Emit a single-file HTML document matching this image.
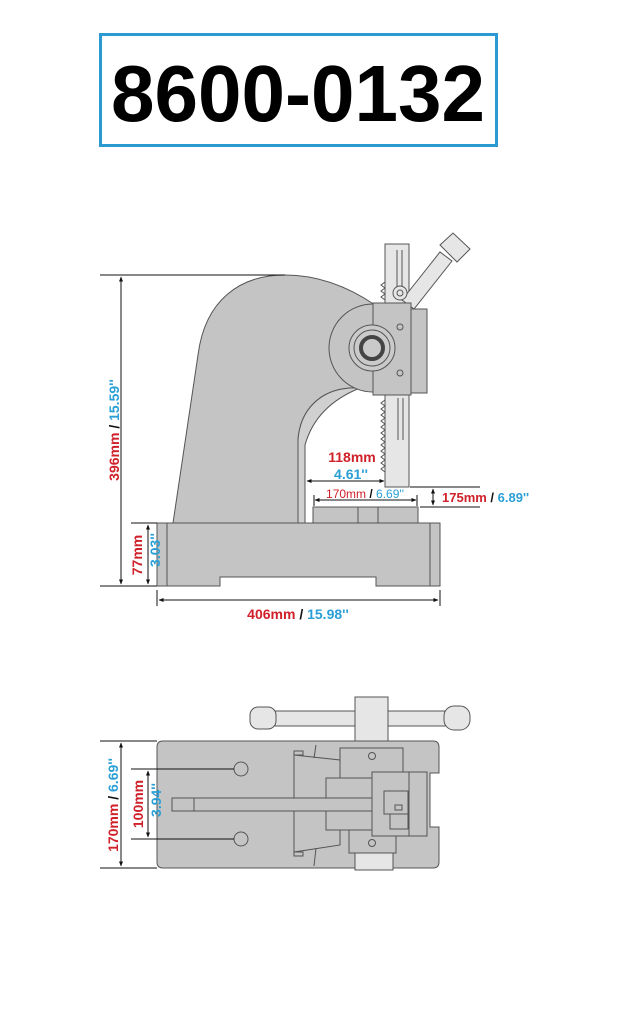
<!DOCTYPE html>
<html><head><style>
html,body{margin:0;padding:0;background:#fff;}
svg{display:block;}
text{font-family:"Liberation Sans",Arial,sans-serif;font-weight:bold;}
</style></head><body>
<svg width="624" height="1014" viewBox="0 0 624 1014" xmlns="http://www.w3.org/2000/svg">
<defs>
<marker id="a" viewBox="0 0 10 10" refX="9" refY="5" markerWidth="5" markerHeight="5" orient="auto-start-reverse"><path d="M0,1 L10,5 L0,9 z" fill="#111"/></marker>
</defs>
<rect x="100.5" y="34.5" width="396" height="111" fill="#fff" stroke="#2b9ad3" stroke-width="3"/>
<text x="298" y="121" font-size="80" text-anchor="middle" fill="#000" textLength="374" lengthAdjust="spacingAndGlyphs">8600-0132</text>

<!-- SIDE VIEW -->
<g stroke="#555" stroke-width="1" fill="#c4c4c4">
<rect x="385" y="244" width="24" height="62" fill="#e6e6e6"/>
<polygon points="402,300 440,252 452,261 414,309" fill="#e6e6e6"/>
<polygon points="440,245 453,233 470,249 457,262" fill="#e6e6e6"/>
<path d="M173,523 L198,355 C205,300 240,275 285,275 C320,275 350,288 375,305 L375,388 L350,388 C320,390 300,410 298,440 L298,523 Z"/>
<path d="M298,523 L298,440 C300,410 320,390 350,388 L360,388 C330,400 312,420 305,445 L305,523 Z" fill="#d0d0d0"/>
<circle cx="373" cy="348" r="44"/>
<rect x="373" y="303" width="38" height="92"/>
<rect x="411" y="309" width="16" height="84"/>
<circle cx="372" cy="348" r="23" fill="#cacaca"/>
<circle cx="372" cy="348" r="18" fill="none"/>
<circle cx="372" cy="348" r="11" fill="none" stroke="#444" stroke-width="4"/>
<circle cx="400" cy="327" r="3" fill="none"/>
<circle cx="400" cy="373" r="3" fill="none"/>
<rect x="385" y="395" width="24" height="92" fill="#e6e6e6"/>
<line x1="398" y1="398" x2="398" y2="440"/><line x1="403" y1="398" x2="403" y2="440"/>
<line x1="397" y1="250" x2="397" y2="296"/><line x1="402" y1="250" x2="402" y2="296"/>
<circle cx="400" cy="293" r="7" fill="#e6e6e6"/><circle cx="400" cy="293" r="3" fill="none"/>
<rect x="313" y="507" width="105" height="16"/>
<line x1="358" y1="507" x2="358" y2="523"/><line x1="378" y1="507" x2="378" y2="523"/>
<path d="M157,523 L440,523 L440,586 L376,586 L376,577 L220,577 L220,586 L157,586 Z"/>
<line x1="167" y1="523" x2="167" y2="586"/><line x1="430" y1="523" x2="430" y2="586"/>
</g>
<path d="M385,300 l-4,-3 4,-3 -4,-3 4,-3 -4,-3 4,-3 M385,400 l-4,3 4,3 -4,3 4,3 -4,3 4,3 -4,3 4,3 -4,3 4,3 -4,3 4,3 -4,3 4,3 -4,3 4,3 -4,3 4,3 -4,3 4,3 -4,3 4,3 -4,3 4,3" fill="none" stroke="#555" stroke-width="1"/>

<g stroke="#111" stroke-width="1" fill="none">
<line x1="100" y1="275" x2="285" y2="275"/>
<line x1="100" y1="586" x2="157" y2="586"/>
<line x1="121" y1="277" x2="121" y2="584" marker-start="url(#a)" marker-end="url(#a)"/>
<line x1="131" y1="523" x2="157" y2="523"/>
<line x1="148" y1="525" x2="148" y2="584" marker-start="url(#a)" marker-end="url(#a)"/>
<line x1="157" y1="590" x2="157" y2="606"/><line x1="440" y1="590" x2="440" y2="606"/>
<line x1="159" y1="600" x2="438" y2="600" marker-start="url(#a)" marker-end="url(#a)"/>
<line x1="307" y1="481" x2="384" y2="481" marker-start="url(#a)" marker-end="url(#a)"/>
<line x1="314" y1="495" x2="314" y2="506"/><line x1="417" y1="495" x2="417" y2="506"/>
<line x1="315" y1="500" x2="416" y2="500" marker-start="url(#a)" marker-end="url(#a)"/>
<line x1="410" y1="487" x2="480" y2="487"/><line x1="420" y1="507" x2="480" y2="507"/>
<line x1="433" y1="489" x2="433" y2="505" marker-start="url(#a)" marker-end="url(#a)"/>
</g>
<text transform="translate(119,430) rotate(-90)" font-size="14" text-anchor="middle"><tspan fill="#d0202a">396mm</tspan><tspan fill="#111"> / </tspan><tspan fill="#2a9fd6">15.59''</tspan></text>
<text transform="translate(142,555) rotate(-90)" font-size="14" text-anchor="middle" fill="#d0202a">77mm</text>
<text transform="translate(160,550) rotate(-90)" font-size="14" text-anchor="middle" fill="#2a9fd6">3.03''</text>
<text x="298" y="619" font-size="14" text-anchor="middle"><tspan fill="#d0202a">406mm</tspan><tspan fill="#111"> / </tspan><tspan fill="#2a9fd6">15.98''</tspan></text>
<text x="352" y="462" font-size="14" text-anchor="middle" fill="#d0202a">118mm</text>
<text x="351" y="479" font-size="14" text-anchor="middle" fill="#2a9fd6">4.61''</text>
<text x="365" y="498" font-size="12" style="font-weight:normal" text-anchor="middle"><tspan fill="#d0202a">170mm</tspan><tspan fill="#111" style="font-weight:bold"> / </tspan><tspan fill="#2a9fd6">6.69''</tspan></text>
<text x="442" y="502" font-size="13"><tspan fill="#d0202a">175mm</tspan><tspan fill="#111"> / </tspan><tspan fill="#2a9fd6">6.89''</tspan></text>

<!-- TOP VIEW -->
<g stroke="#555" stroke-width="1" fill="#c4c4c4">
<rect x="262" y="711" width="195" height="15" rx="7" fill="#e6e6e6"/>
<rect x="250" y="707" width="26" height="22" rx="8" fill="#e6e6e6"/>
<rect x="444" y="706" width="26" height="24" rx="10" fill="#e6e6e6"/>
<rect x="355" y="697" width="33" height="45" fill="#e6e6e6"/>
<path d="M163,741 L433,741 Q439,741 439,747 L439,773 L430,773 L430,827 L439,827 L439,862 Q439,868 433,868 L163,868 Q157,868 157,862 L157,747 Q157,741 163,741 Z"/>
<rect x="355" y="853" width="38" height="17" fill="#e6e6e6"/>
<circle cx="241" cy="769" r="7"/><circle cx="241" cy="839" r="7"/>
<path d="M294,755 L340,760 L340,845 L294,852 Z"/>
<rect x="294" y="751" width="9" height="4"/><rect x="294" y="852" width="9" height="4"/>
<line x1="316" y1="745" x2="314" y2="758" /><line x1="316" y1="848" x2="314" y2="866"/>
<rect x="340" y="748" width="63" height="30"/>
<rect x="349" y="830" width="47" height="23"/>
<rect x="326" y="778" width="46" height="52"/>
<rect x="172" y="798" width="200" height="13"/>
<line x1="194" y1="798" x2="194" y2="811"/>
<rect x="372" y="772" width="55" height="64"/>
<line x1="409" y1="772" x2="409" y2="836"/>
<rect x="384" y="791" width="24" height="23"/>
<rect x="390" y="814" width="18" height="15"/>
<rect x="395" y="805" width="7" height="5"/>
<circle cx="372" cy="756" r="3.5" fill="none"/><circle cx="372" cy="843" r="3.5" fill="none"/>
</g>
<g stroke="#111" stroke-width="1" fill="none">
<line x1="100" y1="741" x2="157" y2="741"/><line x1="100" y1="868" x2="157" y2="868"/>
<line x1="121" y1="743" x2="121" y2="866" marker-start="url(#a)" marker-end="url(#a)"/>
<line x1="131" y1="769" x2="234" y2="769"/><line x1="131" y1="839" x2="234" y2="839"/>
<line x1="148" y1="771" x2="148" y2="837" marker-start="url(#a)" marker-end="url(#a)"/>
</g>
<text transform="translate(118,805) rotate(-90)" font-size="14" text-anchor="middle"><tspan fill="#d0202a">170mm</tspan><tspan fill="#111"> / </tspan><tspan fill="#2a9fd6">6.69''</tspan></text>
<text transform="translate(143,804) rotate(-90)" font-size="14" text-anchor="middle" fill="#d0202a">100mm</text>
<text transform="translate(161,800) rotate(-90)" font-size="14" text-anchor="middle" fill="#2a9fd6">3.94''</text>
</svg>
</body></html>
